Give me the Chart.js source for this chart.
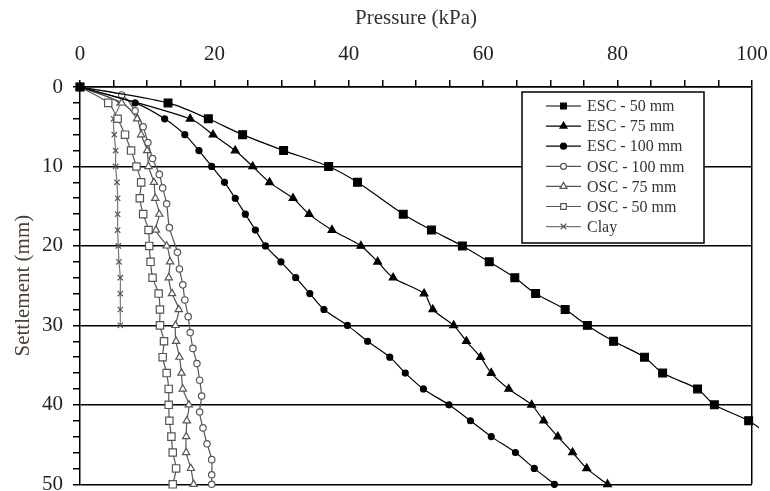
<!DOCTYPE html>
<html lang="en">
<head>
<meta charset="UTF-8">
<title>Pressure vs Settlement</title>
<script src="https://cdn.jsdelivr.net/npm/chart.js"></script>
<style>
  html, body { margin: 0; padding: 0; background: #fff; }
  #wrap { width: 770px; height: 491px; }
</style>
</head>
<body>
<div id="wrap"><canvas id="plot"></canvas></div>
<script>
// settlement (mm) readings and the pressure (kPa) read at each of them
const esc50Settle = [0, 2, 4, 6, 8, 10, 12, 16, 18, 20, 22, 24, 26, 28, 30, 32, 34, 36, 38, 40, 42, 44];
const esc50Press  = [0, 13.1, 19.1, 24.2, 30.3, 37, 41.3, 48.1, 52.3, 56.9, 60.9, 64.7, 67.8, 72.2, 75.5, 79.4, 84, 86.7, 91.9, 94.4, 99.5, 102.8];

const esc75Settle = [0, 4, 6, 8, 10, 12, 14, 16, 18, 20, 22, 24, 26, 28, 30, 32, 34, 36, 38, 40, 42, 44, 46, 48, 50];
const esc75Press  = [0, 16.4, 19.8, 23.1, 25.7, 28.2, 31.7, 34.1, 37.5, 41.8, 44.3, 46.6, 51.2, 52.5, 55.6, 57.5, 59.6, 61.2, 63.8, 67.2, 69, 71.1, 73.3, 75.4, 78.5];

const esc100Settle = [0, 2, 4, 6, 8, 10, 12, 14, 16, 18, 20, 22, 24, 26, 28, 30, 32, 34, 36, 38, 40, 42, 44, 46, 48, 50];
const esc100Press  = [0, 8.2, 12.6, 15.6, 17.7, 19.6, 21.5, 23.1, 24.6, 26.1, 27.6, 29.9, 32.1, 34.2, 36.3, 39.8, 42.8, 46.1, 48.4, 51.1, 54.9, 58.1, 61.2, 64.8, 67.6, 70.6];

const osc100Settle = [0, 1, 3, 5, 7, 9, 11, 12.7, 14.7, 17.7, 20.8, 22.9, 24.9, 26.8, 28.9, 30.9, 32.9, 34.8, 36.9, 38.9, 40.9, 42.9, 44.9, 46.9, 48.8, 50];
const osc100Press  = [0, 6.2, 8.2, 9.4, 10.1, 10.8, 11.8, 12.3, 12.9, 13.3, 14.5, 14.8, 15.3, 15.6, 16.1, 16.4, 16.8, 17.4, 17.8, 18.1, 17.8, 18.3, 18.9, 19.6, 19.6, 19.6];

const osc75Settle = [0, 2, 4, 6, 8, 10, 12, 14, 16, 18, 20, 22, 24, 26, 28, 30, 32, 34, 36, 38, 40, 42, 44, 46, 48, 50];
const osc75Press  = [0, 6.2, 8.5, 9.1, 10, 10.2, 11, 11.2, 11.8, 11.3, 12.9, 13.4, 13.2, 13.7, 14.7, 14.2, 14.3, 14.8, 15.1, 15.3, 16.2, 15.9, 15.8, 15.8, 16.5, 16.9];

const osc50Settle = [0, 2, 4, 6, 8, 10, 12, 14, 16, 18, 20, 22, 24, 26, 28, 30, 32, 34, 36, 38, 40, 42, 44, 46, 48, 50];
const osc50Press  = [0, 4.2, 5.6, 6.7, 7.6, 8.4, 9.1, 8.9, 9.4, 10.2, 10.3, 10.5, 10.8, 11.7, 11.9, 11.9, 12.5, 12.3, 12.9, 13.2, 13.2, 13.3, 13.6, 13.8, 14.3, 13.8];

const claySettle = [0, 2, 4, 6, 8, 10, 12, 14, 16, 18, 20, 22, 24, 26, 28, 30];
const clayPress  = [0, 5.8, 5.0, 5.1, 5.3, 5.3, 5.5, 5.6, 5.6, 5.6, 5.7, 5.8, 6, 6, 6, 6];

const seriesNames = ['ESC - 50 mm', 'ESC - 75 mm', 'ESC - 100 mm', 'OSC - 100 mm', 'OSC - 75 mm', 'OSC - 50 mm', 'Clay'];

const pressTicks = [0, 20, 40, 60, 80, 100];
const settleTicks = [0, 10, 20, 30, 40, 50];

const serif = 'Liberation Serif';

function pts(p, s) {
    return p.map((v, i) => ({ x: v, y: s[i] }));
}

function series(label, data, style, radius, dark, open) {
    const col = dark ? '#000' : '#555';
    return {
        label: label,
        data: data,
        showLine: true,
        borderColor: col,
        borderWidth: 1.2,
        tension: 0.3,
        pointStyle: style,
        pointRadius: ctx => (ctx.raw && ctx.raw.x > 100) ? 0 : radius,
        pointBackgroundColor: open ? '#fff' : col,
        pointBorderColor: col,
        pointBorderWidth: 1.2,
        clip: { left: 10, top: 10, right: 7, bottom: 10 }
    };
}

const datasets = [
    series(seriesNames[0], pts(esc50Press, esc50Settle), 'rect', 5.5, true, false),
    series(seriesNames[1], pts(esc75Press, esc75Settle), 'triangle', 4.5, true, false),
    series(seriesNames[2], pts(esc100Press, esc100Settle), 'circle', 3, true, false),
    series(seriesNames[3], pts(osc100Press, osc100Settle), 'circle', 3.2, false, true),
    series(seriesNames[4], pts(osc75Press, osc75Settle), 'triangle', 4.2, false, true),
    series(seriesNames[5], pts(osc50Press, osc50Settle), 'rect', 5.2, false, true),
    series(seriesNames[6], pts(clayPress, claySettle), 'crossRot', 3.8, false, false)
];
datasets[6].borderColor = '#777';
datasets[6].pointBorderColor = '#555';

// own marker drawing for the boxed legend
function marker(ctx, style, x, y, r) {
    ctx.beginPath();
    if (style === 'rect') {
        const s = r * Math.SQRT1_2;
        ctx.rect(x - s, y - s, 2 * s, 2 * s);
    } else if (style === 'triangle') {
        ctx.moveTo(x, y - r);
        ctx.lineTo(x + r * 0.866, y + r * 0.5);
        ctx.lineTo(x - r * 0.866, y + r * 0.5);
        ctx.closePath();
    } else if (style === 'circle') {
        ctx.arc(x, y, r, 0, Math.PI * 2);
    } else {
        const s = r * Math.SQRT1_2;
        ctx.moveTo(x - s, y - s); ctx.lineTo(x + s, y + s);
        ctx.moveTo(x + s, y - s); ctx.lineTo(x - s, y + s);
        ctx.stroke();
        return;
    }
    ctx.fill();
    ctx.stroke();
}

const boxLegend = {
    id: 'boxLegend',
    afterDraw(chart) {
        const ctx = chart.ctx;
        ctx.save();
        ctx.fillStyle = '#fff';
        ctx.strokeStyle = '#000';
        ctx.lineWidth = 1.5;
        ctx.fillRect(522, 92, 182, 151);
        ctx.strokeRect(522, 92, 182, 151);
        ctx.font = '16px "' + serif + '"';
        ctx.textBaseline = 'middle';
        chart.data.datasets.forEach((ds, i) => {
            const y = 106 + i * 20.1;
            ctx.strokeStyle = ds.borderColor;
            ctx.lineWidth = 1.2;
            ctx.beginPath();
            ctx.moveTo(546, y);
            ctx.lineTo(581, y);
            ctx.stroke();
            ctx.fillStyle = ds.pointBackgroundColor;
            ctx.strokeStyle = ds.pointBorderColor;
            marker(ctx, ds.pointStyle, 563.5, y, ds.pointStyle === 'circle' ? 3 : 4);
            ctx.fillStyle = '#333';
            ctx.fillText(ds.label, 587, y + 1);
        });
        ctx.restore();
    }
};

new Chart(document.getElementById('plot'), {
    type: 'scatter',
    data: { datasets: datasets },
    plugins: [boxLegend],
    options: {
        responsive: true,
        maintainAspectRatio: false,
        animation: false,
        layout: { padding: { left: 0, top: 0, right: 18, bottom: 6 } },
        plugins: { legend: { display: false }, tooltip: { enabled: false } },
        scales: {
            x: {
                type: 'linear',
                position: 'top',
                min: 0,
                max: 100,
                // fixed plot box; let the end labels hang over the edges
                afterFit: s => { s.height = 87; s.paddingLeft = 0; s.paddingRight = 0; },
                ticks: {
                    stepSize: 5,
                    autoSkip: false,
                    maxRotation: 0,
                    padding: 13,
                    color: '#222',
                    font: { family: serif, size: 21 },
                    callback: v => pressTicks.includes(v) ? v : ''
                },
                grid: {
                    color: c => (c.tick && c.tick.value === 100) ? '#000' : 'rgba(0,0,0,0)',
                    tickColor: '#000',
                    tickLength: 7,
                    lineWidth: 1.5
                },
                border: { color: '#000', width: 1.5 },
                title: {
                    display: true,
                    text: 'Pressure (kPa)',
                    color: '#333',
                    font: { family: serif, size: 21 },
                    padding: { top: 6, bottom: 0 }
                }
            },
            y: {
                type: 'linear',
                reverse: true,
                min: 0,
                max: 50,
                afterFit: s => { s.width = 80; s.paddingTop = 0; s.paddingBottom = 0; },
                ticks: {
                    stepSize: 2,
                    autoSkip: false,
                    padding: 10,
                    color: '#222',
                    font: { family: serif, size: 21 },
                    callback: v => settleTicks.includes(v) ? v : ''
                },
                grid: {
                    color: c => (c.tick && settleTicks.includes(c.tick.value)) ? '#000' : 'rgba(0,0,0,0)',
                    tickColor: '#000',
                    tickLength: 7,
                    lineWidth: 1.5
                },
                border: { color: '#000', width: 1.5 },
                title: {
                    display: true,
                    text: 'Settlement (mm)',
                    color: '#4a4036',
                    font: { family: serif, size: 21 },
                    padding: { top: 11, bottom: 0 }
                }
            }
        }
    }
});
</script>
</body>
</html>
